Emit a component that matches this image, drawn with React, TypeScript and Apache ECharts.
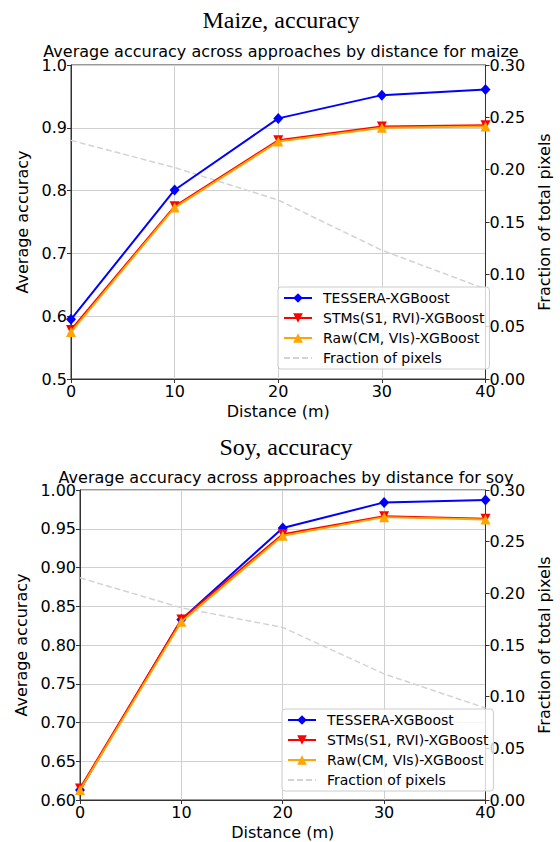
import React, { useEffect, useRef } from "react";
import * as echarts from "echarts";

const distances = [0, 10, 20, 30, 40];

const maizeTessera = [0.595, 0.801, 0.915, 0.952, 0.961];
const maizeStms = [0.578, 0.775, 0.88, 0.902, 0.904];
const maizeRaw = [0.575, 0.773, 0.878, 0.9, 0.902];
const maizeFraction = [0.228, 0.202, 0.171, 0.123, 0.086];

const soyTessera = [0.613, 0.833, 0.951, 0.984, 0.987];
const soyStms = [0.615, 0.833, 0.943, 0.966, 0.963];
const soyRaw = [0.613, 0.83, 0.941, 0.965, 0.962];
const soyFraction = [0.215, 0.186, 0.167, 0.122, 0.089];

const seriesNames = [
  "TESSERA-XGBoost",
  "STMs(S1, RVI)-XGBoost",
  "Raw(CM, VIs)-XGBoost",
  "Fraction of pixels",
];

const SANS = "DejaVu Sans";
const SERIF = "Liberation Serif";

const pairs = (ys: number[]) => distances.map((d, i) => [d, ys[i]]);

function buildSeries(
  idx: number,
  tess: number[],
  stms: number[],
  raw: number[],
  frac: number[]
) {
  const xi = idx;
  const yl = idx * 2;
  const yr = idx * 2 + 1;
  return [
    {
      name: seriesNames[0],
      type: "line",
      xAxisIndex: xi,
      yAxisIndex: yl,
      data: pairs(tess),
      symbol: "diamond",
      symbolSize: [10, 11],
      lineStyle: { color: "#0000ff", width: 2 },
      itemStyle: { color: "#0000ff" },
      z: 3,
    },
    {
      name: seriesNames[1],
      type: "line",
      xAxisIndex: xi,
      yAxisIndex: yl,
      data: pairs(stms),
      symbol: "triangle",
      symbolRotate: 180,
      symbolSize: 10,
      lineStyle: { color: "#ff0000", width: 2 },
      itemStyle: { color: "#ff0000" },
      z: 4,
    },
    {
      name: seriesNames[2],
      type: "line",
      xAxisIndex: xi,
      yAxisIndex: yl,
      data: pairs(raw),
      symbol: "triangle",
      symbolSize: 10,
      lineStyle: { color: "#ffa500", width: 2 },
      itemStyle: { color: "#ffa500" },
      z: 5,
    },
    {
      name: seriesNames[3],
      type: "line",
      xAxisIndex: xi,
      yAxisIndex: yr,
      data: pairs(frac),
      symbol: "none",
      lineStyle: { color: "#d3d3d3", width: 1.5, type: [6, 3] },
      itemStyle: { color: "rgba(0,0,0,0)" },
      z: 2,
    },
  ];
}

const axisCommon = {
  axisLine: { show: true, lineStyle: { color: "#333", width: 1 } },
  axisTick: { show: true, length: 4, lineStyle: { color: "#333" } },
  axisLabel: { fontSize: 16, color: "#000", fontFamily: SANS, margin: 4 },
  nameTextStyle: { fontSize: 16, color: "#000", fontFamily: SANS },
};

function xAxis(gridIndex: number) {
  return {
    gridIndex,
    type: "value",
    min: 0,
    max: 40,
    interval: 10,
    name: "Distance (m)",
    nameLocation: "middle",
    nameGap: 24,
    ...axisCommon,
    splitLine: { show: true, lineStyle: { color: "#d0d0d0", width: 1 } },
  };
}

function leftY(gridIndex: number, min: number, interval: number, digits: number, gap: number) {
  return {
    gridIndex,
    type: "value",
    position: "left",
    min,
    max: 1.0,
    interval,
    name: "Average accuracy",
    nameLocation: "middle",
    nameGap: gap,
    ...axisCommon,
    axisLabel: { ...axisCommon.axisLabel, formatter: (v: number) => v.toFixed(digits) },
    splitLine: { show: true, lineStyle: { color: "#d0d0d0", width: 1 } },
  };
}

function rightY(gridIndex: number, gap: number) {
  return {
    gridIndex,
    type: "value",
    position: "right",
    min: 0,
    max: 0.3,
    interval: 0.05,
    name: "Fraction of total pixels",
    nameLocation: "middle",
    nameGap: gap,
    nameRotate: 90,
    ...axisCommon,
    axisLabel: { ...axisCommon.axisLabel, formatter: (v: number) => v.toFixed(2) },
    splitLine: { show: false },
  };
}

function legend(left: number, top: number) {
  return {
    data: seriesNames,
    orient: "vertical",
    left,
    top,
    itemWidth: 28,
    itemHeight: 12,
    itemGap: 6,
    padding: [4, 5, 4, 5],
    backgroundColor: "rgba(255,255,255,0.8)",
    borderColor: "#cccccc",
    borderWidth: 1,
    borderRadius: 3,
    textStyle: { fontSize: 14, color: "#000", fontFamily: SANS, padding: [0, 0, 0, 6] },
    selectedMode: false,
  };
}

export default function App() {
  const ref = useRef<HTMLDivElement>(null);
  useEffect(() => {
    if (!ref.current) return;
    const chart = echarts.init(ref.current, null, { renderer: "svg" });
    chart.setOption({
      animation: false,
      backgroundColor: "#ffffff",
      grid: [
        { left: 71, top: 65, width: 420, height: 314, show: true, borderColor: "#333", borderWidth: 1 },
        { left: 80, top: 490, width: 412, height: 310, show: true, borderColor: "#333", borderWidth: 1 },
      ],
      xAxis: [xAxis(0), xAxis(1)],
      yAxis: [leftY(0, 0.5, 0.1, 1, 41), rightY(0, 42), leftY(1, 0.6, 0.05, 2, 50), rightY(1, 42)],
      legend: [legend(278, 287), legend(282, 709)],
      graphic: [
        {
          type: "text",
          x: 281,
          y: 20,
          style: { text: "Maize, accuracy", fontSize: 24, fontFamily: SERIF, fill: "#000", textAlign: "center", textVerticalAlign: "middle" },
        },
        {
          type: "text",
          x: 281,
          y: 51,
          style: { text: "Average accuracy across approaches by distance for maize", fontSize: 16, fontFamily: SANS, fill: "#000", textAlign: "center", textVerticalAlign: "middle" },
        },
        {
          type: "text",
          x: 286,
          y: 447,
          style: { text: "Soy, accuracy", fontSize: 24, fontFamily: SERIF, fill: "#000", textAlign: "center", textVerticalAlign: "middle" },
        },
        {
          type: "text",
          x: 286,
          y: 477,
          style: { text: "Average accuracy across approaches by distance for soy", fontSize: 16, fontFamily: SANS, fill: "#000", textAlign: "center", textVerticalAlign: "middle" },
        },
      ],
      series: [
        ...buildSeries(0, maizeTessera, maizeStms, maizeRaw, maizeFraction),
        ...buildSeries(1, soyTessera, soyStms, soyRaw, soyFraction),
      ],
    } as any);
    return () => chart.dispose();
  }, []);
  return <div ref={ref} style={{ width: 560, height: 842, position: "absolute", left: 0, top: 0 }} />;
}
